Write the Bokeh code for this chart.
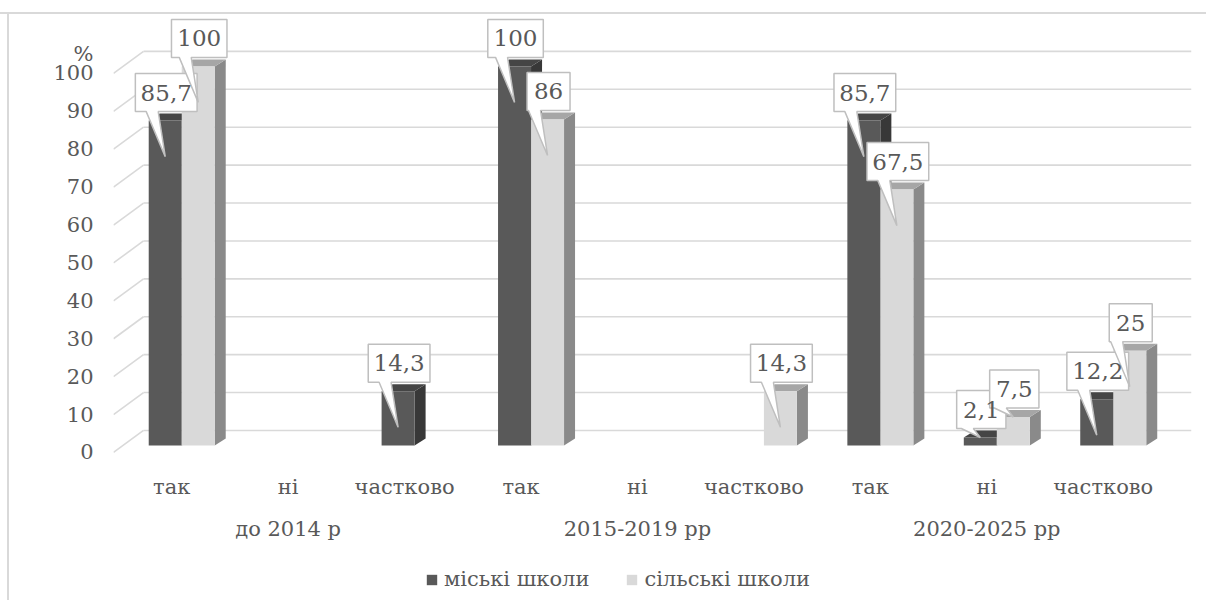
from bokeh.plotting import figure
from bokeh.layouts import column
from bokeh.models import (Range1d, LinearAxis, FixedTicker, Legend, LegendItem)
from bokeh.core.properties import value
from bokeh.embed import file_html
from bokeh.resources import INLINE

# ---------------- data ----------------
periods = ["до 2014 р", "2015-2019 рр", "2020-2025 рр"]
answers = ["так", "ні", "частково"]
series_names = ["міські школи", "сільські школи"]
urban = [85.7, 0, 14.3, 100, 0, 0, 85.7, 2.1, 12.2]
rural = [100, 0, 0, 86, 0, 14.3, 67.5, 7.5, 25]
y_ticks = [0, 10, 20, 30, 40, 50, 60, 70, 80, 90, 100]
unit_label = "%"
unit_pos = 105

# ---------------- style ----------------
FONT = "DejaVu Serif"
FS = "21px"
FS_CALLOUT = "23px"
TXT = "#595959"
GRID = "#d9d9d9"
FACE = [("#595959", "#454545", "#383838"),   # front, top, side  (urban)
        ("#d9d9d9", "#a6a6a6", "#8a8a8a")]   # rural

W, H = 1206, 560
BL, BR, BT, BB = 113, 15, 13, 105
X_START, X_END = -0.5, 8.758
Y_START, Y_END = -0.8, 115.8
PXX = (W - BL - BR) / (X_END - X_START)   # px per category
PXY = (H - BT - BB) / (Y_END - Y_START)   # px per percent

BAR_W = 33      # px
PLANE_DX, PLANE_DY = 10, 7    # bar plane offset from front plane (px)
DEPTH_DX, DEPTH_DY = 11, 7    # bar depth (px)
WALL_DX, WALL_DY = 30, 22     # back wall offset (px)

p = figure(width=W, height=H, output_backend="svg", toolbar_location=None,
           x_range=Range1d(X_START, X_END), y_range=Range1d(Y_START, Y_END),
           min_border_left=BL, min_border_right=BR, min_border_top=BT,
           min_border_bottom=BB, x_axis_type=None, y_axis_type=None)
p.outline_line_color = None
p.background_fill_color = None
p.border_fill_color = None

n = len(urban)
# ---------------- back wall gridlines ----------------
wdx, wdy = WALL_DX / PXX, WALL_DY / PXY
gx, gy = [], []
for t in y_ticks:
    gx.append([X_START + wdx, X_START + n * 1.0 + wdx])
    gy.append([t + wdy, t + wdy])
    gx.append([X_START, X_START + wdx])
    gy.append([t, t + wdy])
p.multi_line(gx, gy, line_color=GRID, line_width=1.6)

# ---------------- 3D bars ----------------
pdx, pdy = PLANE_DX / PXX, PLANE_DY / PXY
ddx, ddy = DEPTH_DX / PXX, DEPTH_DY / PXY
bw = BAR_W / PXX
callouts = []
for s, vals in enumerate([urban, rural]):
    L, R, B, T = [], [], [], []
    topx, topy, sidex, sidey = [], [], [], []
    for i, v in enumerate(vals):
        if v <= 0:
            continue
        l = i + pdx + (s - 1) * bw
        r = l + bw
        b = pdy
        t = v + pdy
        L.append(l); R.append(r); B.append(b); T.append(t)
        topx.append([l, r, r + ddx, l + ddx]); topy.append([t, t, t + ddy, t + ddy])
        sidex.append([r, r + ddx, r + ddx, r]); sidey.append([b, b + ddy, t + ddy, t])
        callouts.append((s, (l + r) / 2, t, v))
    p.patches(sidex, sidey, fill_color=FACE[s][2], line_color=None)
    p.patches(topx, topy, fill_color=FACE[s][1], line_color=None)
    p.quad(left=L, right=R, bottom=B, top=T, fill_color=FACE[s][0], line_color=None)

# ---------------- callout labels ----------------
cxs, cys, tx, ty, tt = [], [], [], [], []
for s, cx, t, v in callouts:
    txt = ("%g" % v).replace(".", ",")
    em = sum(0.25 if ch == "," else 0.5 for ch in txt)
    wpx = em * 25 + 18
    cxx = cx + 1 / PXX
    half = wpx / 2 / PXX
    bot = t + 9 / PXY
    top = bot + 38 / PXY
    tip = t - 36 / PXY if (t - pdy) * PXY > 40 else t
    xs = [cxx - half, cxx - 20 / PXX, cx, cxx - 8 / PXX, cxx + half, cxx + half, cxx - half]
    ys = [bot, bot, tip, bot, bot, top, top]
    cxs.append(xs); cys.append(ys)
    tx.append(cxx); ty.append((bot + top) / 2); tt.append(txt)
p.patches(cxs, cys, fill_color="white", line_color="#bfbfbf", line_width=1.5)
p.text(tx, ty, text=tt, text_font=value(FONT), text_font_size=value(FS_CALLOUT),
       text_color=TXT, text_align="center", text_baseline="middle")

# ---------------- axes ----------------
def style_axis(ax, standoff):
    ax.axis_line_color = None
    ax.major_tick_line_color = None
    ax.minor_tick_line_color = None
    ax.major_tick_out = 0
    ax.major_tick_in = 0
    ax.major_label_standoff = standoff
    ax.major_label_text_font = FONT
    ax.major_label_text_font_size = FS
    ax.major_label_text_color = TXT

yaxis = LinearAxis(ticker=FixedTicker(ticks=y_ticks + [unit_pos]),
                   major_label_overrides={unit_pos: unit_label})
style_axis(yaxis, 20)
p.add_layout(yaxis, "left")

xaxis1 = LinearAxis(ticker=FixedTicker(ticks=list(range(n))),
                    major_label_overrides={i: answers[i % 3] for i in range(n)})
style_axis(xaxis1, 19)
p.add_layout(xaxis1, "below")

gticks = [3 * k + 1 for k in range(len(periods))]
xaxis2 = LinearAxis(ticker=FixedTicker(ticks=gticks),
                    major_label_overrides={g: periods[k] for k, g in enumerate(gticks)})
style_axis(xaxis2, 15)
p.add_layout(xaxis2, "below")

# ---------------- legend (own strip below the chart) ----------------
LH = 40
lg = figure(width=W, height=LH, output_backend="svg", toolbar_location=None,
            x_range=Range1d(0, 1), y_range=Range1d(0, 1),
            min_border_left=0, min_border_right=0, min_border_top=0, min_border_bottom=0,
            x_axis_type=None, y_axis_type=None)
lg.outline_line_color = None
lg.background_fill_color = None
lg.border_fill_color = None
lrs = [lg.quad(left=[-2], right=[-2], bottom=[-2], top=[-2], fill_color=FACE[k][0],
               line_color=None) for k in range(2)]
legend = Legend(items=[LegendItem(label=series_names[k], renderers=[lrs[k]]) for k in range(2)],
                orientation="horizontal", location=(312, 9),
                label_text_font=FONT, label_text_font_size=FS, label_text_color=TXT,
                glyph_width=13, glyph_height=13, label_standoff=6, spacing=36,
                padding=0, margin=0, border_line_color=None, background_fill_alpha=0)
lg.add_layout(legend)

page = column(p, lg, spacing=0)
page.styles = {"background": "linear-gradient(#d9d9d9,#d9d9d9) 0 12px/100% 2px no-repeat, "
                             "linear-gradient(#d9d9d9,#d9d9d9) 7px 12px/2px 100% no-repeat"}

open("out.html", "w").write(file_html(page, INLINE))
